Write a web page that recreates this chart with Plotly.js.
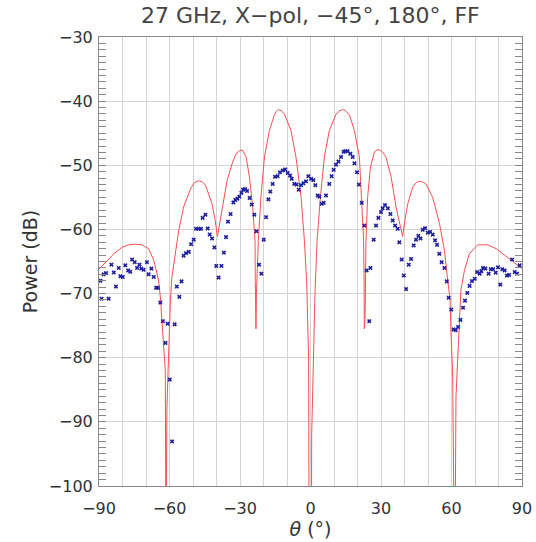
<!DOCTYPE html>
<html>
<head>
<meta charset="utf-8">
<script src="https://cdn.plot.ly/plotly-3.0.1.min.js"></script>
<style>html,body{margin:0;padding:0;background:#fff;}#chart{width:536px;height:542px;}</style>
</head>
<body>
<div id="chart"></div>
<script>
// Simulated pattern (red line)
const simTheta = [-90,-87.3,-83.7,-80.2,-77.4,-74.5,-71.7,-68.9,-66.7,-65.3,-64.6,-63.9,-63.2,-62.5,-61.8,-61.5,
  -61.1,-60.6,-60.1,-59.6,-59.0,-58.2,-56.1,-54.0,-51.1,-49.4,-47.6,-46.0,-44.7,-41.9,-40.6,-39.6,-38.6,-37.7,-35.5,-33.4,-31.8,-30.6,-29.0,
  -27.4,-26.0,-24.6,-23.6,-23.5,-23.4,-23.2,-23.0,-22.7,-22.2,-21.1,-19.6,-17.5,-15.4,-14.5,-13.7,-12.5,-11.1,-8.3,-6.2,-4.0,-2.6,
  -1.6,-1.2,-0.8,-0.6,0.4,0.5,0.9,1.6,1.9,2.8,4.2,5.9,8.0,10.9,12.5,13.7,14.9,16.6,18.7,20.8,21.8,22.6,22.8,22.9,23.2,23.35,23.6,
  24.3,25.5,27.2,28.3,29.3,30.6,32.1,34.3,36.4,38.2,39.2,40.2,41.4,43.5,45.0,46.3,47.7,49.1,52.0,54.9,57.0,58.4,59.4,59.8,60.5,61.2,
  61.5,61.9,62.6,63.4,64.0,65.5,67.6,71.2,75.4,79.0,82.5,86.8,90];
const simPower = [-66.2,-65.1,-63.8,-62.8,-62.4,-62.3,-62.4,-63.0,-64.8,-66.9,-68.2,-70.5,-74.2,-77.8,-82.0,-110,
  -88,-82,-76,-71,-67.5,-65.3,-60.2,-56.5,-53.7,-52.7,-52.4,-52.6,-53.1,-56.0,-58.5,-61.1,-59.0,-57.0,-52.4,-49.8,-48.3,-47.8,-47.6,
  -48.7,-51.8,-56.5,-61.7,-68,-74.4,-75.5,-70,-66,-61.7,-55.0,-48.7,-44.6,-42.2,-41.6,-41.3,-41.5,-42.0,-44.6,-48.7,-55.0,-61.7,
  -68.5,-74,-80,-110,-110,-92,-84,-75,-70,-61.7,-55.0,-48.7,-44.6,-42.0,-41.5,-41.3,-41.5,-42.2,-44.6,-48.7,-55.0,-61.7,-68,-75.5,-74,-70,-62,
  -55.0,-50.3,-47.9,-47.6,-47.6,-47.9,-48.7,-51.8,-56.5,-59.5,-61.1,-58.5,-56.0,-53.4,-52.7,-52.5,-52.6,-52.9,-55.0,-59.1,-63.3,-68.0,-71,-76,-83,-110,
  -110,-86,-80,-72,-69.5,-66.4,-63.8,-62.4,-62.4,-63.0,-64.0,-65.1,-66.1];

// Measured pattern (blue markers)
const measTheta = [-89.4,-88.9,-88.0,-87.0,-85.9,-84.7,-83.7,-82.8,-81.6,-80.9,-79.9,-78.8,-77.6,-76.7,-75.9,-74.8,-73.8,-72.8,-72.0,-71.0,
  -69.6,-68.9,-67.7,-66.7,-65.7,-64.9,-63.9,-62.8,-61.7,-60.8,-59.9,-58.9,-57.8,-56.9,-55.8,-54.9,-54.0,-53.0,-51.8,-50.8,
  -49.7,-48.7,-47.6,-46.6,-45.9,-44.7,-43.75,-42.9,-41.9,-40.9,-40.1,-39.1,-37.9,-36.85,-35.95,-35.1,-34.0,-32.8,-32.0,-31.1,
  -30.3,-29.4,-28.7,-27.86,-27.0,-25.9,-25.0,-23.9,-23.0,-21.9,-20.9,-19.9,-18.9,-17.9,-17.1,-16.1,-15.1,-14.0,-13.0,-11.8,
  -10.8,-9.7,-8.7,-8.0,-6.9,-5.9,-5.0,-4.03,-3.04,-1.9,-0.91,0.23,1.22,2.07,3.06,3.77,4.77,5.6,6.6,8.0,
  9.0,9.87,10.86,11.9,13.0,14.1,14.8,15.8,16.96,17.96,18.7,19.8,20.6,21.8,22.9,23.9,25.0,25.5,26.9,27.9,
  28.9,30.0,30.7,31.7,32.9,34.0,35.0,36.0,37.1,37.8,38.8,39.7,40.7,41.8,42.8,43.9,44.9,45.9,46.8,47.75,
  48.75,49.9,50.9,52.0,53.0,53.85,54.8,55.8,57.0,58.0,58.8,59.9,60.9,61.8,62.8,63.8,64.9,65.75,66.75,67.7,
  68.7,69.9,70.9,72.0,72.7,73.4,74.4,75.8,76.7,77.7,78.8,79.8,80.8,81.6,82.6,83.6,84.5,85.8,86.9,87.9,89.0];
const measPower = [-68.0,-70.8,-67.0,-66.8,-70.8,-65.5,-66.7,-68.9,-66.0,-67.3,-67.4,-65.6,-66.4,-66.6,-64.7,-65.1,-66.0,-65.5,-66.1,-66.3,
  -65.1,-67.0,-66.1,-67.4,-69.1,-69.1,-71.4,-74.3,-77.7,-74.7,-83.4,-93.05,-74.8,-68.9,-70.5,-68.1,-64.1,-63.7,-63.5,-62.3,
  -61.6,-59.9,-59.9,-59.9,-58.2,-57.7,-59.85,-60.8,-61.4,-62.8,-65.7,-67.5,-65.7,-63.6,-61.2,-58.8,-57.6,-55.8,-55.4,-55.2,
  -54.9,-54.3,-53.8,-53.7,-54.0,-55.1,-56.1,-57.7,-60.3,-65.5,-66.9,-61.6,-58.1,-55.3,-54.1,-52.9,-51.8,-51.7,-51.1,-50.8,
  -50.65,-51.2,-51.6,-52.1,-52.9,-53.0,-53.8,-53.1,-52.8,-52.5,-51.7,-52.1,-52.3,-53.1,-54.7,-54.9,-56.0,-55.85,-54.7,-52.9,
  -51.7,-50.7,-49.9,-49.4,-48.7,-47.9,-47.8,-47.8,-48.2,-48.7,-49.7,-51.1,-53.0,-55.85,-59.4,-66.4,-74.3,-66.0,-61.6,-59.4,
  -58.2,-57.3,-56.7,-56.2,-56.7,-57.6,-58.6,-59.4,-59.9,-62.0,-64.7,-67.2,-69.3,-65.5,-64.6,-62.5,-61.6,-61.0,-61.4,-60.05,
  -59.8,-60.5,-60.4,-60.8,-61.7,-62.4,-63.8,-65.1,-66.0,-68.1,-70.65,-72.5,-75.6,-75.7,-75.2,-74.1,-72.2,-71.1,-69.9,-68.8,
  -68.05,-67.7,-66.65,-66.9,-66.5,-66.0,-66.1,-66.9,-66.2,-66.2,-66.75,-65.9,-68.6,-66.2,-66.4,-67.2,-67.1,-64.7,-66.65,-66.9,-65.6];

const xTicks = [-90,-60,-30,0,30,60,90];
const xTickText = ['\u221290','\u221260','\u221230','0','30','60','90'];
const yTicks = [-100,-90,-80,-70,-60,-50,-40,-30];
const yTickText = ['\u2212100','\u221290','\u221280','\u221270','\u221260','\u221250','\u221240','\u221230'];

const font = 'DejaVu Sans, sans-serif';
const gridC = '#d4d4d4';
const axisC = '#8a8a8a';

const traces = [
  {x: simTheta, y: simPower, type: 'scatter', mode: 'lines',
   line: {color: 'rgb(255,80,80)', width: 1}, hoverinfo: 'skip'},
  {x: measTheta, y: measPower, type: 'scatter', mode: 'markers',
   marker: {symbol: 'x', size: 4, color: '#1f1fa0'}, hoverinfo: 'skip'}
];

const layout = {
  width: 536, height: 542,
  margin: {l: 99, r: 14, t: 37, b: 56},
  paper_bgcolor: '#fff', plot_bgcolor: '#fff',
  showlegend: false,
  font: {family: font, color: '#333', size: 16},
  title: {text: '27 GHz, X\u2212pol, \u221245\u00b0, 180\u00b0, FF', x: 0.579, xanchor: 'center', y: 0.972, yanchor: 'middle',
          font: {family: font, size: 22, color: '#444'}},
  xaxis: {range: [-90, 90], tickvals: xTicks, ticktext: xTickText, ticks: '', showgrid: true, gridcolor: gridC, gridwidth: 1,
          minor: {dtick: 10, tick0: 0, showgrid: true, gridcolor: gridC, gridwidth: 1},
          showline: true, linecolor: axisC, linewidth: 1, mirror: true, zeroline: false,
          tickfont: {family: font, size: 16, color: '#333'}, ticklabelstandoff: 8,
          title: {text: '<i>\u03b8</i> (\u00b0)', font: {family: font, size: 19, color: '#333'}, standoff: 2}},
  yaxis: {range: [-100, -30], tickvals: yTicks, ticktext: yTickText, ticks: 'inside', ticklen: 7, tickcolor: axisC,
          showgrid: true, gridcolor: gridC, gridwidth: 1,
          minor: {dtick: 1, tick0: 0, ticks: 'inside', ticklen: 7, tickcolor: axisC, showgrid: false},
          showline: true, linecolor: axisC, linewidth: 1, mirror: 'allticks', zeroline: false,
          tickfont: {family: font, size: 16, color: '#333'}, ticklabelstandoff: 2,
          title: {text: 'Power (dB)', font: {family: font, size: 19, color: '#333'}, standoff: 6}}
};

Plotly.newPlot('chart', traces, layout, {staticPlot: true, displayModeBar: false});
</script>
</body>
</html>
